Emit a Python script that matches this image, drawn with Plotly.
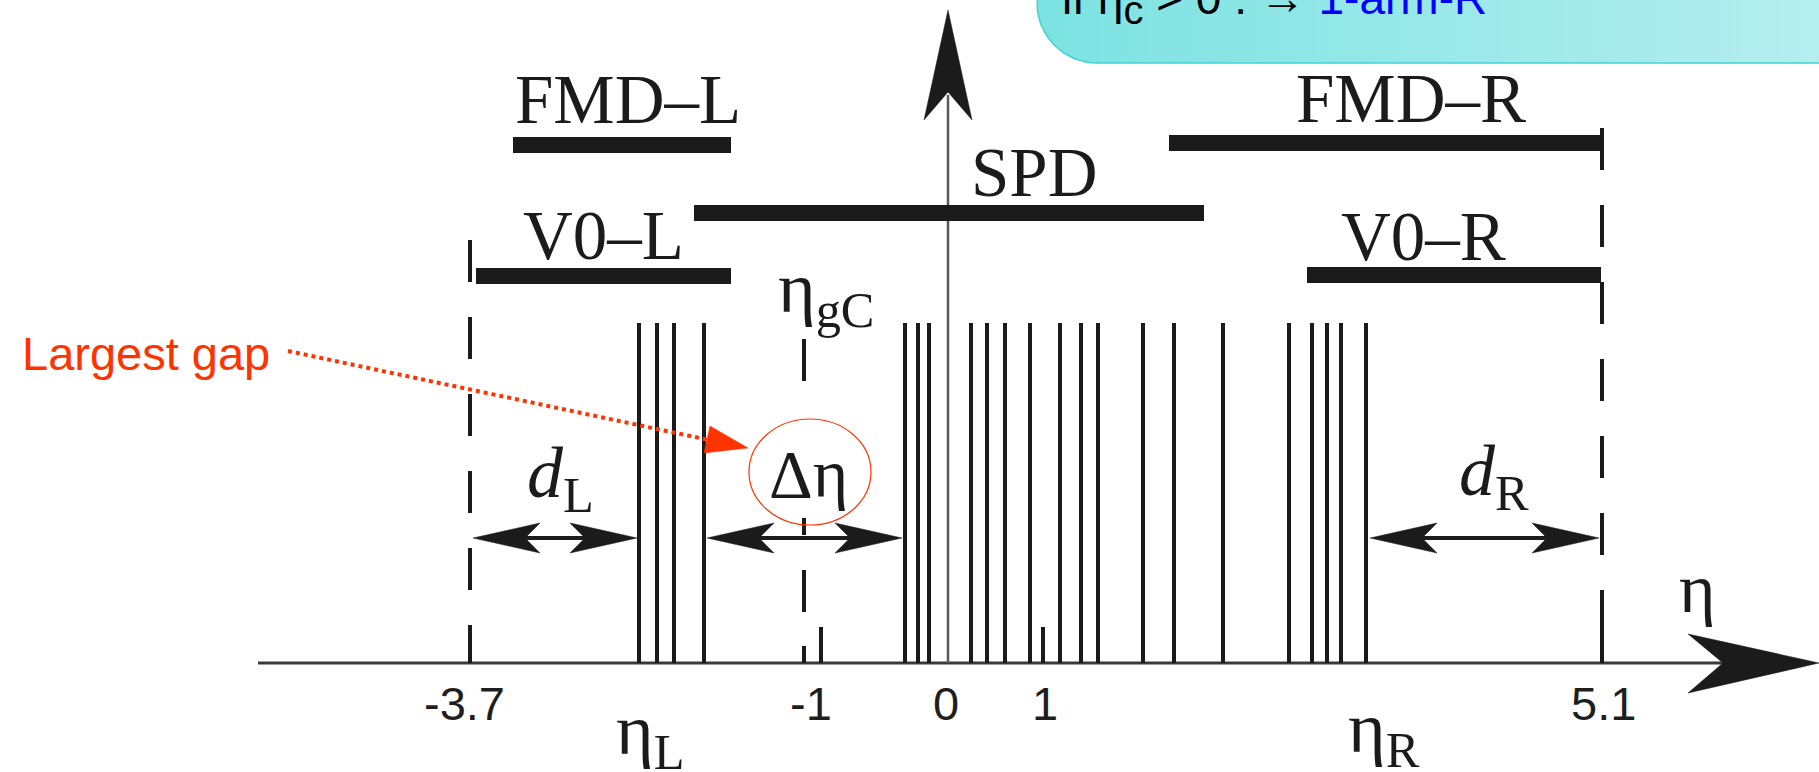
import numpy as np
import plotly.graph_objects as go

W, H = 1819, 772

# ---------------- data (diagram coordinates, schematic eta axis) ----------------
axis_y = 663
axis_x0 = 258
axis_tip = 1819
vaxis_x = 948
vaxis_tip = 10

tick_labels = ["-3.7", "-1", "0", "1", "5.1"]
tick_label_x = [464, 811, 946, 1045, 1603]
tick_label_y = 703

detectors = ["FMD–L", "FMD–R", "SPD", "V0–L", "V0–R"]
det_x0 = [513, 1169, 694, 476, 1307]
det_x1 = [731, 1601, 1204, 731, 1601]
det_y = [145, 143, 213, 276, 275]
det_label_x = [628, 1411, 1034, 603, 1423]
det_label_y = [100, 99, 173, 236, 237]

track_x = [639, 657, 674, 704, 905, 918, 929, 971, 987, 1005, 1030, 1060,
           1081, 1098, 1143, 1174, 1223, 1289, 1312, 1327, 1341, 1366]
track_top = 323

short_tick_x = [821, 1043]
short_tick_top = 627

dashed_x = [470, 804, 1602]
dashed_top = [240, 339, 128]

gap_names = ["d_L", "Δη", "d_R"]
gap_x0 = [473, 707, 1370]
gap_x1 = [637, 902, 1599]
gap_y = 538

BLACK = "#1b1b1b"
RED = "#ff3300"
SERIF = "Liberation Serif, Times New Roman, serif"
SANS = "Liberation Sans, Arial, sans-serif"

shapes = []
annotations = []


def line(x0, y0, x1, y1, color=BLACK, width=4, dash=None):
    d = dict(type="line", xref="x", yref="y", x0=x0, y0=y0, x1=x1, y1=y1,
             line=dict(color=color, width=width))
    if dash:
        d["line"]["dash"] = dash
    shapes.append(d)


def poly(pts, color=BLACK):
    p = "M " + " L ".join(f"{x},{y}" for x, y in pts) + " Z"
    shapes.append(dict(type="path", xref="x", yref="y", path=p,
                       fillcolor=color, line=dict(color=color, width=0.5)))


def text(x, y, s, size, font=SERIF, color=BLACK, xa="center", ya="middle"):
    annotations.append(dict(x=x, y=y, xref="x", yref="y", text=s, showarrow=False,
                            xanchor=xa, yanchor=ya,
                            font=dict(family=font, size=size, color=color)))


# ---------------- info box (top right, gradient, rounded) ----------------
r = 60
cx, cy = 1037 + r, 3
th = np.linspace(np.pi, np.pi / 2, 30)
bx = [1037, *list(cx + r * np.cos(th)), 1830, 1830, 1037]
by = [-20, *list(cy + r * np.sin(th)), cy + r, -20, -20]

fig = go.Figure()
fig.add_trace(go.Scatter(
    x=bx, y=by, mode="lines", fill="toself",
    line=dict(color="#3fd2d2", width=1.5),
    fillgradient=dict(type="horizontal",
                      colorscale=[[0, "#7ce2e2"], [1, "#b6eeee"]]),
    hoverinfo="skip", showlegend=False))

# ---------------- axes ----------------
line(axis_x0, axis_y, 1725, axis_y, color="#3a3a3a", width=3)
poly([(axis_tip, axis_y), (1688, 634), (1723, axis_y), (1688, 693)])
line(vaxis_x, axis_y, vaxis_x, 95, color="#5a5a5a", width=2.5)
poly([(vaxis_x, vaxis_tip), (972, 120), (vaxis_x, 92), (924, 120)])

# dashed limits
for x, t in zip(dashed_x, dashed_top):
    line(x, t, x, axis_y, width=4, dash="42px,35px")
line(804, 646, 804, axis_y, width=4)
line(1602, 632, 1602, axis_y, width=4)

# tracks
for x in track_x:
    line(x, track_top, x, axis_y, width=4)
for x in short_tick_x:
    line(x, short_tick_top, x, axis_y, width=4)

# detector bars
for name, x0, x1, y, lx, ly in zip(detectors, det_x0, det_x1, det_y, det_label_x, det_label_y):
    line(x0, y, x1, y, width=16)
    text(lx, ly, name, 69)

# gap arrows
L, hw, notch = 67, 15, 52
for x0, x1 in zip(gap_x0, gap_x1):
    line(x0 + notch, gap_y, x1 - notch, gap_y, width=4)
    poly([(x0, gap_y), (x0 + L, gap_y - hw), (x0 + notch, gap_y), (x0 + L, gap_y + hw)])
    poly([(x1, gap_y), (x1 - L, gap_y - hw), (x1 - notch, gap_y), (x1 - L, gap_y + hw)])

# white patch behind delta-eta label, red ellipse
shapes.append(dict(type="rect", xref="x", yref="y", x0=760, x1=860, y0=382, y1=518,
                   fillcolor="white", line=dict(width=0)))
shapes.append(dict(type="circle", xref="x", yref="y", x0=749, x1=871, y0=419, y1=525,
                   line=dict(color=RED, width=1.2)))

# red pointer
line(288, 351, 709, 440, color=RED, width=4, dash="4px,4px")
poly([(748, 448), (710, 426), (704, 453)], color=RED)

# ---------------- texts ----------------
for lab, x in zip(tick_labels, tick_label_x):
    text(x, tick_label_y, lab, 47, font=SANS, color="#1e1e1e")

text(650, 735, "η<sub>L</sub>", 72)
text(1384, 733, "η<sub>R</sub>", 72)
text(1697, 588, "η", 70)
text(826, 293, "η<sub>gC</sub>", 72)
text(808, 474, "Δη", 68)
text(560, 478, "<i>d</i><sub>L</sub>", 72)
text(1494, 476, "<i>d</i><sub>R</sub>", 72)

text(20, 353, "Largest gap", 47, font=SANS, color=RED, xa="left")

text(1060, 34,
     "if η<sub><span style='font-size:40px'>c</span></sub> > 0 : → "
     "<span style='color:#0000ff'>1-arm-R</span>",
     46, font=SANS, color="#000000", xa="left", ya="bottom")

fig.update_layout(
    width=W, height=H,
    margin=dict(l=0, r=0, t=0, b=0),
    paper_bgcolor="white", plot_bgcolor="white",
    xaxis=dict(range=[0, W], visible=False, fixedrange=True),
    yaxis=dict(range=[H, 0], visible=False, fixedrange=True),
    shapes=shapes, annotations=annotations,
    showlegend=False,
)

fig.write_html("out.html", config={"displayModeBar": False},
               post_script="document.body.style.margin='0';document.body.style.overflow='hidden';")
